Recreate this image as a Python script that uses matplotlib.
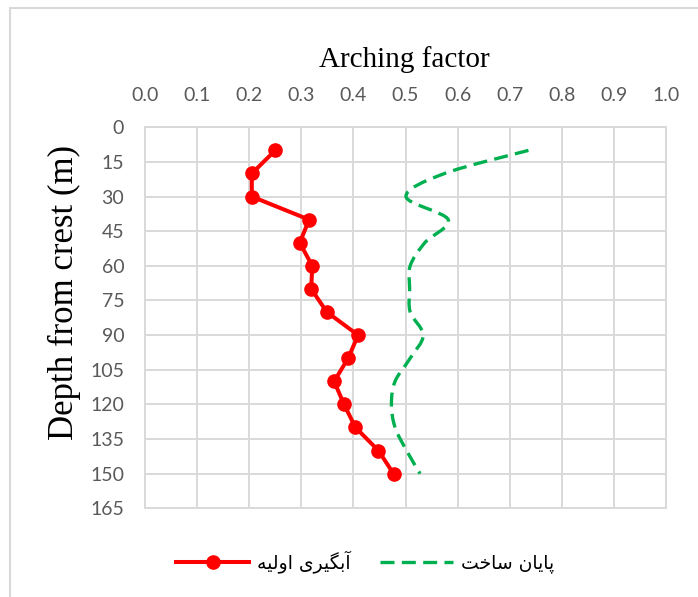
import matplotlib
matplotlib.use("Agg")
import matplotlib.pyplot as plt
from matplotlib.path import Path
from matplotlib.patches import PathPatch, Rectangle
from matplotlib.lines import Line2D
import numpy as np

# ---- data ----
depths = [10, 20, 30, 40, 50, 60, 70, 80, 90, 100, 110, 120, 130, 140, 150]
initial_impounding = [0.25, 0.205, 0.205, 0.315, 0.297, 0.321, 0.319, 0.349,
                      0.409, 0.390, 0.363, 0.382, 0.404, 0.448, 0.477]
end_construction = [0.736, 0.575, 0.501, 0.582, 0.537, 0.509, 0.508, 0.509,
                    0.534, 0.509, 0.480, 0.473, 0.480, 0.502, 0.528]
x_ticks = [0.0, 0.1, 0.2, 0.3, 0.4, 0.5, 0.6, 0.7, 0.8, 0.9, 1.0]
y_ticks = [0, 15, 30, 45, 60, 75, 90, 105, 120, 135, 150, 165]
# Persian labels (presentation forms, visual order) : "آبگیری اولیه", "پایان ساخت"
label_initial = "\uFEEA\uFBFF\uFEDF\uFEED\uFE8D \uFBFC\uFEAE\uFBFF\uFB95\uFE91\uFE81"
label_end = "\uFE96\uFEA7\uFE8E\uFEB3 \uFEE5\uFE8E\uFBFE\uFE8E\uFB58"

W, H = 698, 597
fig = plt.figure(figsize=(W / 100, H / 100), dpi=100)
ax = fig.add_axes([145 / W, 1 - 508.3 / H, (666 - 145) / W, (508.3 - 127.3) / H])

grid_c = "#d9d9d9"
ax.set_xlim(0, 1.0)
ax.set_ylim(165, 0)
ax.set_xticks(x_ticks)
ax.set_yticks(y_ticks)
ax.set_xticklabels([f"{v:.1f}" for v in x_ticks])
ax.xaxis.tick_top()
ax.tick_params(axis="both", length=0, labelsize=14, labelcolor="#595959")
ax.tick_params(axis="x", pad=17)
ax.tick_params(axis="y", pad=15)
for lab in ax.get_xticklabels() + ax.get_yticklabels():
    lab.set_fontfamily("Lato")
ax.grid(True, color=grid_c, lw=1.4)
ax.set_axisbelow(True)
for s in ax.spines.values():
    s.set_color(grid_c)
    s.set_linewidth(1.4)

# red series
ax.plot(initial_impounding, depths, color="#FF0000", lw=2.9, marker="o",
        markersize=9.5, zorder=3)

# green smoothed dashed series (Catmull-Rom style Bezier through the points)
pts = np.column_stack([end_construction, depths]).astype(float)
verts = [pts[0]]
codes = [Path.MOVETO]
n = len(pts)
for i in range(n - 1):
    p0 = pts[i - 1] if i > 0 else pts[i]
    p1 = pts[i]
    p2 = pts[i + 1]
    p3 = pts[i + 2] if i + 2 < n else pts[i + 1]
    c1 = p1 + (p2 - p0) / 6.0
    c2 = p2 - (p3 - p1) / 6.0
    verts += [c1, c2, p2]
    codes += [Path.CURVE4] * 3
patch = PathPatch(Path(verts, codes), fill=False, edgecolor="#00B050", lw=2.4,
                  linestyle=(0, (4.2, 2.2)), zorder=2, capstyle="butt")
ax.add_patch(patch)

# titles
fig.text(404 / W, 1 - 60 / H, "Arching factor", ha="center", va="center",
         fontsize=21, family="Liberation Serif")
fig.text(64 / W, 1 - 292 / H, "Depth from crest (m)", ha="center", va="center",
         rotation=90, fontsize=25, family="Liberation Serif")

# legend
h1 = Line2D([], [], color="#FF0000", lw=2.9, marker="o", markersize=9.5)
h2 = Line2D([], [], color="#00B050", lw=2.4, linestyle=(0, (4.2, 2.2)))
leg = fig.legend([h1, h2], [label_initial, label_end], loc="center",
                 bbox_to_anchor=(365 / W, 1 - 562 / H), ncol=2, frameon=False,
                 handlelength=3.9, handletextpad=0.4, columnspacing=1.6,
                 prop={"family": ["DejaVu Sans"], "size": 13.5})

# chart-area border
fig.patches.append(Rectangle((10 / W, -0.1), 1.2, 1 - 8 / H + 0.1,
                             transform=fig.transFigure, fill=False,
                             edgecolor=grid_c, lw=1.5, zorder=0))

fig.savefig("out.png", dpi=100)
